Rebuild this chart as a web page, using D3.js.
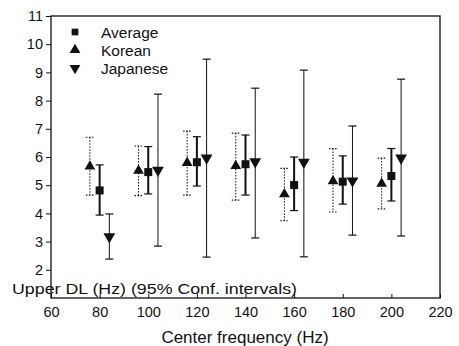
<!DOCTYPE html>
<html>
<head>
<meta charset="utf-8">
<script src="https://cdn.jsdelivr.net/npm/d3@7"></script>
<style>
  body { margin: 0; background: #fff; }
  svg { display: block; font-family: "Liberation Sans", Arial, sans-serif; }
</style>
</head>
<body>
<svg id="chart" width="459" height="346"></svg>
<script>
// centre frequencies (Hz)
const freqs = [80, 100, 120, 140, 160, 180, 200]
const xTicks = [60, 80, 100, 120, 140, 160, 180, 200, 220]
const yTicks = [2, 3, 4, 5, 6, 7, 8, 9, 10, 11]

const koreanMean  = [5.70, 5.55, 5.83, 5.72, 4.72, 5.18, 5.09]
const koreanUpper = [6.70, 6.39, 6.92, 6.85, 5.60, 6.30, 5.96]
const koreanLower = [4.65, 4.63, 4.65, 4.47, 3.74, 4.05, 4.16]

const averageMean  = [4.85, 5.50, 5.85, 5.78, 5.04, 5.16, 5.36]
const averageUpper = [5.72, 6.37, 6.72, 6.78, 6.00, 6.04, 6.30]
const averageLower = [3.94, 4.69, 4.97, 4.65, 4.10, 4.33, 4.44]

const japaneseMean  = [3.14, 5.50, 5.93, 5.80, 5.78, 5.12, 5.93]
const japaneseUpper = [3.98, 8.23, 9.47, 8.44, 9.08, 7.10, 8.76]
const japaneseLower = [2.38, 2.84, 2.45, 3.13, 2.46, 3.23, 3.20]

const ink = '#111'
const svg = d3.select('#chart')

const x = d3.scaleLinear().domain([60, 220]).range([51, 440])
const y = d3.scaleLinear().domain([1, 11]).range([298, 16])

const series = [
    { name: 'Korean', offset: -4, mean: koreanMean, upper: koreanUpper, lower: koreanLower,
      symbol: d3.symbolTriangle, rotate: 0, size: 50, width: 1, dash: '1.5,1.5' },
    { name: 'Average', offset: 0, mean: averageMean, upper: averageUpper, lower: averageLower,
      symbol: d3.symbolSquare, rotate: 0, size: 64, width: 2, dash: null },
    { name: 'Japanese', offset: 4, mean: japaneseMean, upper: japaneseUpper, lower: japaneseLower,
      symbol: d3.symbolTriangle, rotate: 180, size: 60, width: 1, dash: null }
]

// frame
svg.append('rect')
    .attr('x', x(60)).attr('y', y(11))
    .attr('width', x(220) - x(60)).attr('height', y(1) - y(11))
    .attr('fill', 'none').attr('stroke', ink).attr('stroke-width', 1.3)

// axes
const xAxis = svg.append('g')
    .attr('transform', `translate(0,${y(1)})`)
    .call(d3.axisBottom(x).tickValues(xTicks).tickSizeInner(-4).tickSizeOuter(0).tickPadding(9))
xAxis.select('.domain').remove()
xAxis.selectAll('line').attr('stroke', ink)
xAxis.selectAll('text').attr('fill', ink).style('font-size', '14.5px')

const yAxis = svg.append('g')
    .attr('transform', `translate(${x(60)},0)`)
    .call(d3.axisLeft(y).tickValues(yTicks).tickSizeInner(5).tickSizeOuter(0).tickPadding(3))
yAxis.select('.domain').remove()
yAxis.selectAll('line').attr('stroke', ink)
yAxis.selectAll('text').attr('fill', ink).style('font-size', '14.5px')

// error bars and markers
const capHalf = 4
series.forEach(s => {
    const g = svg.append('g')
    freqs.forEach((f, i) => {
        const cx = x(f + s.offset)
        const bar = g.append('g')
            .attr('stroke', ink)
            .attr('stroke-width', s.width)
            .attr('stroke-dasharray', s.dash)
        bar.append('line')
            .attr('x1', cx).attr('x2', cx)
            .attr('y1', y(s.upper[i])).attr('y2', y(s.lower[i]))
        ;[s.upper[i], s.lower[i]].forEach(v => {
            bar.append('line')
                .attr('x1', cx - capHalf).attr('x2', cx + capHalf)
                .attr('y1', y(v)).attr('y2', y(v))
                .attr('stroke-width', 1.2)
                .attr('stroke-dasharray', null)
        })
        g.append('path')
            .attr('d', d3.symbol(s.symbol, s.size)())
            .attr('transform', `translate(${cx},${y(s.mean[i]) + (s.rotate ? -1 : 1)}) rotate(${s.rotate})`)
            .attr('fill', ink)
    })
})

// legend
const legendOrder = [series[1], series[0], series[2]]
legendOrder.forEach((s, i) => {
    const ly = 32 + i * 18
    svg.append('path')
        .attr('d', d3.symbol(s.symbol, s.symbol === d3.symbolSquare ? 45 : 50)())
        .attr('transform', `translate(75,${ly}) rotate(${s.rotate})`)
        .attr('fill', ink)
    svg.append('text')
        .attr('x', 101).attr('y', ly + 6)
        .attr('fill', ink)
        .style('font-size', '15.5px')
        .text(s.name)
})

// axis titles
svg.append('text')
    .attr('x', 245).attr('y', 343)
    .attr('text-anchor', 'middle')
    .attr('fill', ink)
    .style('font-size', '17px')
    .text('Center frequency (Hz)')

svg.append('text')
    .attr('x', 12).attr('y', 294)
    .attr('fill', ink)
    .attr('textLength', 285)
    .attr('lengthAdjust', 'spacingAndGlyphs')
    .style('font-size', '15px')
    .text('Upper DL (Hz) (95% Conf. intervals)')
</script>
</body>
</html>
